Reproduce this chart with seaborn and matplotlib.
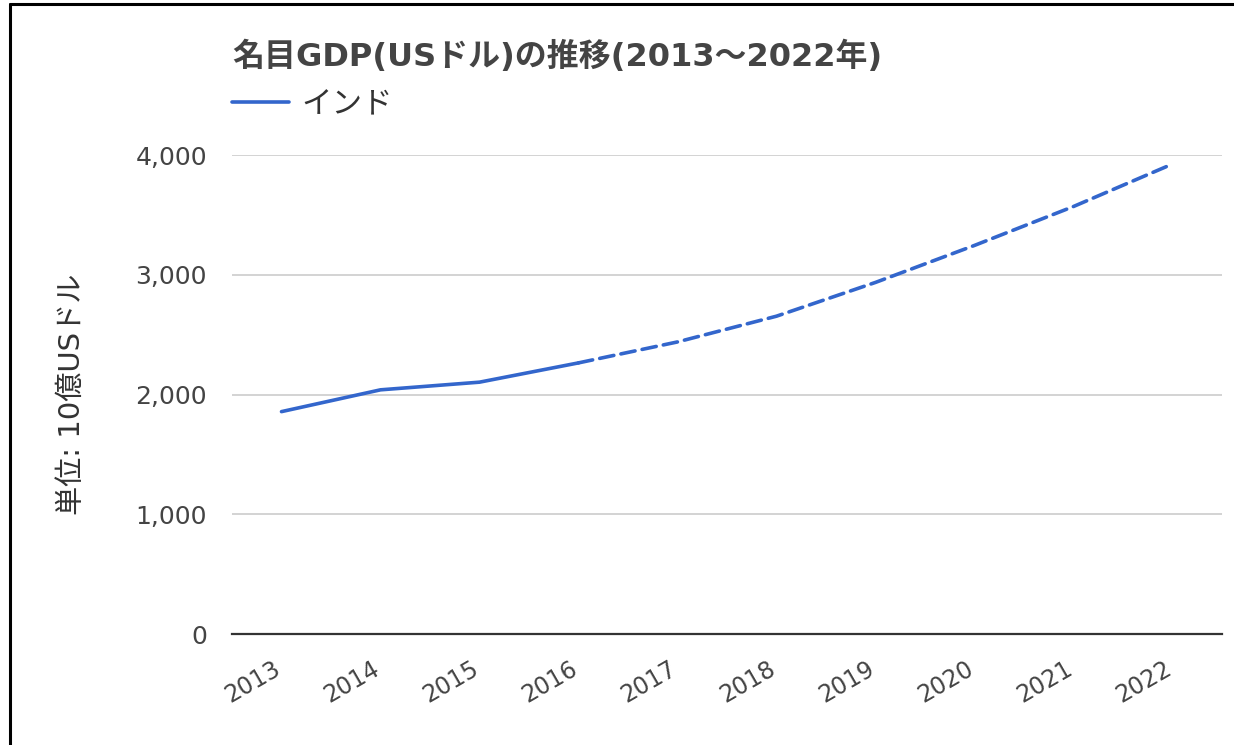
import matplotlib
matplotlib.use("Agg")
import matplotlib.pyplot as plt
import matplotlib.transforms as mtransforms
from matplotlib.lines import Line2D
import seaborn as sns
import pandas as pd

sns.set_style("white")
plt.rcParams["font.family"] = ["DejaVu Sans", "Noto Sans CJK JP"]

years = [2013, 2014, 2015, 2016, 2017, 2018, 2019, 2020, 2021, 2022]
gdp = [1857, 2039, 2103, 2264, 2439, 2654, 2936, 3245, 3570, 3925]
last_actual = 2016  # solid up to here, dashed (estimates) afterwards
series_name = "インド"
title = "名目GDP(USドル)の推移(2013～2022年)"
y_label = "単位: 10億USドル"
y_ticks = [0, 1000, 2000, 3000, 4000]

df = pd.DataFrame({"year": years, "gdp": gdp})
actual = df[df["year"] <= last_actual]
estimate = df[df["year"] >= last_actual]

color = "#3366cc"

fig = plt.figure(figsize=(12.34, 7.45), dpi=100)
ax = fig.add_axes([232 / 1234, 1 - 634 / 745, 990 / 1234, 479 / 745])

sns.lineplot(data=actual, x="year", y="gdp", ax=ax, color=color,
             linewidth=2.6, label=series_name)
sns.lineplot(data=estimate, x="year", y="gdp", ax=ax, color=color,
             linewidth=2.6, dashes=False, legend=False)
ax.lines[-1].set_dashes([4, 2])
ax.lines[-1].set_dash_capstyle("round")

ax.set_xlim(years[0] - 0.5, years[-1] + 0.5)
ax.set_ylim(0, 4000)
ax.set_xticks(years)
ax.set_xticklabels([str(y) for y in years])
ax.set_yticks(y_ticks)
ax.set_yticklabels([f"{v:,}" for v in y_ticks])

ax.grid(axis="y", color="#cccccc", linewidth=1.2)
ax.grid(axis="x", visible=False)
for side in ["top", "right", "left"]:
    ax.spines[side].set_visible(False)
ax.spines["bottom"].set_color("#333333")
ax.spines["bottom"].set_linewidth(1.6)
ax.set_axisbelow(True)

ax.tick_params(axis="y", length=0, pad=18, labelsize=18, labelcolor="#444444")
ax.tick_params(axis="x", length=0, pad=16, labelsize=17, labelcolor="#444444")
offset = mtransforms.ScaledTranslation(-9 / 100, 0, fig.dpi_scale_trans)
for lbl in ax.get_xticklabels():
    lbl.set_rotation(30)
    lbl.set_ha("right")
    lbl.set_va("top")
    lbl.set_rotation_mode("anchor")
    lbl.set_transform(lbl.get_transform() + offset)

ax.set_xlabel("")
ax.set_ylabel(y_label, fontsize=21, color="#333333")
ax.yaxis.set_label_coords(-0.148, 0.5)

fig.text(232 / 1234, 1 - 57 / 745, title, fontsize=23, fontweight="bold",
         color="#444444", va="center", ha="left")

ax.legend(loc="upper left", bbox_to_anchor=(232 / 1234, 1 - 90 / 745),
          bbox_transform=fig.transFigure, frameon=False, fontsize=22,
          handlelength=1.86, handletextpad=0.4, borderaxespad=0, borderpad=0,
          labelcolor="#333333")

# outer frame (left and top)
fig.add_artist(Line2D([10 / 1234, 10 / 1234], [0, 1 - 4 / 745],
                      transform=fig.transFigure, color="black", linewidth=2.2))
fig.add_artist(Line2D([10 / 1234, 1], [1 - 4 / 745, 1 - 4 / 745],
                      transform=fig.transFigure, color="black", linewidth=2.2))

fig.savefig("out.png", dpi=100)
